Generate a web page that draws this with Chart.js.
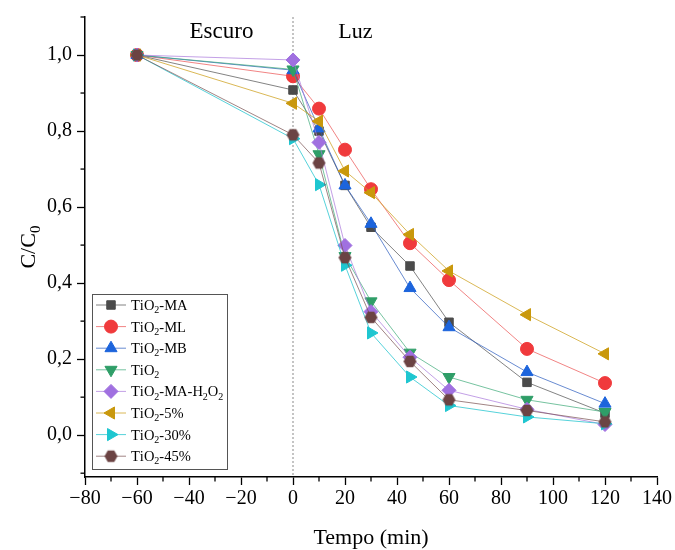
<!DOCTYPE html>
<html>
<head>
<meta charset="utf-8">
<script src="https://cdn.jsdelivr.net/npm/chart.js@4/dist/chart.umd.min.js"></script>
<style>
  html, body { margin: 0; padding: 0; background: #fff; }
  #wrap { width: 675px; height: 550px; position: relative; }
</style>
</head>
<body>
<div id="wrap"><canvas id="chart"></canvas></div>
<script>
// time (min)
const times = [-60, 0, 10, 20, 30, 45, 60, 90, 120];

// C/C0 for each sample
const tio2MA    = [1.0, 0.908, 0.800, 0.657, 0.547, 0.445, 0.297, 0.139, 0.058];
const tio2ML    = [1.0, 0.944, 0.859, 0.751, 0.647, 0.505, 0.408, 0.227, 0.137];
const tio2MB    = [1.0, 0.960, 0.807, 0.657, 0.556, 0.387, 0.284, 0.166, 0.083];
const tio2      = [1.0, 0.962, 0.739, 0.471, 0.352, 0.217, 0.153, 0.093, 0.061];
const tio2MAH2O2 = [1.0, 0.987, 0.770, 0.499, 0.325, 0.205, 0.118, 0.068, 0.028];
const tio2p5    = [1.0, 0.873, 0.826, 0.695, 0.638, 0.528, 0.432, 0.317, 0.214];
const tio2p30   = [1.0, 0.780, 0.659, 0.447, 0.269, 0.153, 0.078, 0.048, 0.030];
const tio2p45   = [1.0, 0.790, 0.716, 0.467, 0.310, 0.194, 0.093, 0.065, 0.035];

const seriesNames = ['TiO2-MA', 'TiO2-ML', 'TiO2-MB', 'TiO2', 'TiO2-MA-H2O2', 'TiO2-5%', 'TiO2-30%', 'TiO2-45%'];
const seriesValues = [tio2MA, tio2ML, tio2MB, tio2, tio2MAH2O2, tio2p5, tio2p30, tio2p45];

// tick labels
const xTicks = [-80, -60, -40, -20, 0, 20, 40, 60, 80, 100, 120, 140];
const yTicks = [0, 0.2, 0.4, 0.6, 0.8, 1.0];

const SERIF = '"Liberation Serif", "DejaVu Serif", serif';

// hexagon marker (no built-in one)
function makeHexagon(r, color) {
    const c = document.createElement('canvas');
    c.width = c.height = Math.ceil(r * 2 + 2);
    const g = c.getContext('2d');
    const cx = c.width / 2, cy = c.height / 2;
    g.beginPath();
    for (let i = 0; i < 6; i++) {
        const a = Math.PI / 3 * i;
        const px = cx + r * Math.cos(a), py = cy + r * Math.sin(a);
        if (i === 0) g.moveTo(px, py); else g.lineTo(px, py);
    }
    g.closePath();
    g.fillStyle = color;
    g.fill();
    return c;
}

const styles = [
    { color: '#4b4b4b', line: 'rgba(90,90,90,0.75)',   shape: 'rect',     rot: 0,   r: 6 },
    { color: '#f03a3c', line: 'rgba(235,80,80,0.7)',   shape: 'circle',   rot: 0,   r: 6.5 },
    { color: '#1c64dc', line: 'rgba(40,90,190,0.7)',   shape: 'triangle', rot: 0,   r: 7 },
    { color: '#2f9e68', line: 'rgba(60,170,120,0.7)',  shape: 'triangle', rot: 180, r: 7 },
    { color: '#a070e0', line: 'rgba(170,120,220,0.7)', shape: 'rectRot',  rot: 0,   r: 7 },
    { color: '#c9980c', line: 'rgba(205,160,30,0.75)', shape: 'triangle', rot: -90, r: 7 },
    { color: '#1ec6d0', line: 'rgba(30,195,205,0.75)', shape: 'triangle', rot: 90,  r: 7 },
    { color: '#6b4343', line: 'rgba(120,80,80,0.7)',   shape: 'hex',      rot: 0,   r: 6.5 }
];
styles.forEach(s => { if (s.shape === 'hex') s.shape = makeHexagon(s.r, s.color); });

const datasets = seriesNames.map((name, i) => ({
    label: name,
    data: times.map((t, j) => ({ x: t, y: seriesValues[i][j] })),
    borderColor: styles[i].line,
    borderWidth: 1,
    backgroundColor: styles[i].color,
    pointBackgroundColor: styles[i].color,
    pointBorderColor: styles[i].color,
    pointBorderWidth: 1,
    pointStyle: styles[i].shape,
    pointRotation: styles[i].rot,
    pointRadius: styles[i].r,
    pointHoverRadius: styles[i].r,
    tension: 0,
    fill: false,
    order: seriesNames.length - i
}));

// draws text where a digit right after a letter becomes a subscript
function drawRich(ctx, text, x, y, size, align) {
    const parts = [];
    for (let k = 0; k < text.length; k++) {
        const ch = text[k];
        const sub = /[0-9]/.test(ch) && k > 0 && /[A-Za-z]/.test(text[k - 1]);
        parts.push({ t: ch, sub: sub });
    }
    const big = size + 'px ' + SERIF, small = Math.round(size * 0.68) + 'px ' + SERIF;
    let w = 0;
    parts.forEach(p => { ctx.font = p.sub ? small : big; p.w = ctx.measureText(p.t).width; w += p.w; });
    let cx = align === 'center' ? x - w / 2 : x;
    ctx.textAlign = 'left';
    ctx.textBaseline = 'alphabetic';
    parts.forEach(p => {
        ctx.font = p.sub ? small : big;
        ctx.fillText(p.t, cx, p.sub ? y + size * 0.22 : y);
        cx += p.w;
    });
}

const extrasPlugin = {
    id: 'extras',
    beforeDatasetsDraw(chart) {
        const { ctx, chartArea: { top, bottom } } = chart;
        const xs = chart.scales.x;
        const x0 = xs.getPixelForValue(0);
        ctx.save();
        ctx.strokeStyle = '#8a8a8a';
        ctx.lineWidth = 1;
        ctx.setLineDash([2, 2]);
        ctx.beginPath();
        ctx.moveTo(x0, top);
        ctx.lineTo(x0, bottom);
        ctx.stroke();
        ctx.restore();
    },
    afterDraw(chart) {
        const { ctx, chartArea: { left, bottom } } = chart;
        const xs = chart.scales.x, ys = chart.scales.y;
        ctx.save();
        ctx.fillStyle = '#000';
        ctx.strokeStyle = '#000';
        ctx.lineWidth = 1.3;

        // minor ticks
        for (let v = -70; v < 140; v += 20) {
            const px = xs.getPixelForValue(v);
            ctx.beginPath(); ctx.moveTo(px, bottom); ctx.lineTo(px, bottom + 4.5); ctx.stroke();
        }
        for (let v = -0.1; v <= 1.11; v += 0.2) {
            const py = ys.getPixelForValue(v);
            ctx.beginPath(); ctx.moveTo(left, py); ctx.lineTo(left - 4.5, py); ctx.stroke();
        }

        // region labels
        ctx.textAlign = 'center';
        ctx.textBaseline = 'middle';
        ctx.font = '23px ' + SERIF;
        ctx.fillText('Escuro', xs.getPixelForValue(-27.5), ys.getPixelForValue(1.06));
        ctx.font = '22px ' + SERIF;
        ctx.fillText('Luz', xs.getPixelForValue(24), ys.getPixelForValue(1.06));

        // axis titles
        ctx.font = '22px ' + SERIF;
        ctx.fillText('Tempo (min)', xs.getPixelForValue(30), 538);
        ctx.save();
        ctx.translate(35, ys.getPixelForValue(0.5) + 2);
        ctx.rotate(-Math.PI / 2);
        drawRich(ctx, 'C/C0', 0, 0, 22, 'center');
        ctx.restore();

        // legend box
        const lx = 92, ly = 294, lw = 135, lh = 175, row = 21.6;
        ctx.fillStyle = '#fff';
        ctx.fillRect(lx, ly, lw, lh);
        ctx.strokeStyle = '#555';
        ctx.lineWidth = 1;
        ctx.strokeRect(lx + 0.5, ly + 0.5, lw, lh);
        chart.data.datasets.forEach((ds, i) => {
            const cy = ly + 11 + row * i;
            ctx.strokeStyle = ds.borderColor;
            ctx.lineWidth = 1;
            ctx.beginPath(); ctx.moveTo(lx + 4, cy); ctx.lineTo(lx + 34, cy); ctx.stroke();
            ctx.fillStyle = ds.pointBackgroundColor;
            ctx.strokeStyle = ds.pointBorderColor;
            Chart.helpers.drawPoint(ctx, {
                pointStyle: ds.pointStyle, rotation: ds.pointRotation,
                radius: ds.pointRadius, borderWidth: 1
            }, lx + 19, cy);
            ctx.fillStyle = '#000';
            drawRich(ctx, ds.label, lx + 39, cy + 5, 14.5, 'left');
        });
        ctx.restore();
    }
};

new Chart(document.getElementById('chart'), {
    type: 'line',
    data: { datasets: datasets },
    options: {
        responsive: true,
        maintainAspectRatio: false,
        animation: false,
        layout: { padding: { top: 14, right: 18, left: 0, bottom: 0 } },
        plugins: {
            legend: { display: false },
            tooltip: { enabled: false }
        },
        scales: {
            x: {
                type: 'linear',
                min: -80,
                max: 140,
                afterBuildTicks: axis => { axis.ticks = xTicks.map(v => ({ value: v })); },
                afterFit: axis => { axis.height = 73; },
                border: { display: true, color: '#000', width: 1.5 },
                grid: { drawOnChartArea: false, drawTicks: true, tickLength: 8, tickColor: '#000', tickWidth: 1.3 },
                ticks: {
                    color: '#000',
                    padding: 2,
                    maxRotation: 0,
                    font: { family: SERIF, size: 20 },
                    callback: v => (v < 0 ? '\u2212' + Math.abs(v) : String(v))
                }
            },
            y: {
                min: -0.11,
                max: 1.1,
                afterBuildTicks: axis => { axis.ticks = yTicks.map(v => ({ value: v })); },
                afterFit: axis => { axis.width = 85; },
                border: { display: true, color: '#000', width: 1.5 },
                grid: { drawOnChartArea: false, drawTicks: true, tickLength: 8, tickColor: '#000', tickWidth: 1.3 },
                ticks: {
                    color: '#000',
                    padding: 5,
                    font: { family: SERIF, size: 20 },
                    callback: v => Number(v).toFixed(1).replace('.', ',')
                }
            }
        }
    },
    plugins: [extrasPlugin]
});
</script>
</body>
</html>
